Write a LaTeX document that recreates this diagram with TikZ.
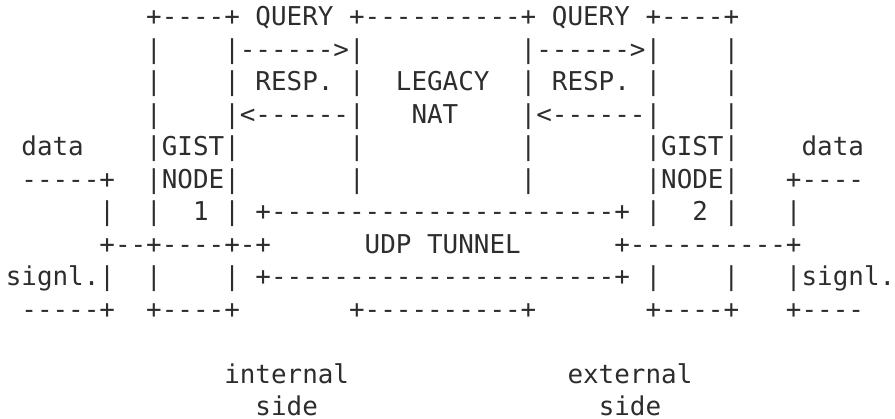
\documentclass[tikz,border=0pt]{standalone}
\usepackage{fontspec}
\setmonofont{DejaVu Sans Mono}

\definecolor{ink}{RGB}{45,45,45}
\tikzset{
  ascii/.style={font=\ttfamily\fontsize{25.93}{32.5}\selectfont, text=ink,
    inner sep=0pt, text depth=0pt, anchor=base west}
}

\begin{document}
\begin{tikzpicture}[x=15.61pt, y=-32.5pt]
\useasboundingbox (-0.36,0.2) rectangle (57.0,13.092);

% we draw the top edge with the two queries
\node (top) [ascii] at (9,1) {+----+ QUERY +----------+ QUERY +----+};

% query arrows
\node (lside2) [ascii] at (9,2) {|};
\node (qry1) [ascii] at (14,2) {|------>|};
\node (qry2) [ascii] at (33,2) {|------>|};
\node (rside2) [ascii] at (46,2) {|};

% responses and the nat in the middle
\node (lside3) [ascii] at (9,3) {|};
\node (resp1) [ascii] at (14,3) {| RESP. |};
\node (legacy) [ascii] at (25,3) {LEGACY};
\node (resp2) [ascii] at (33,3) {| RESP. |};
\node (rside3) [ascii] at (46,3) {|};

\node (lside4) [ascii] at (9,4) {|};
\node (back1) [ascii] at (14,4) {|<------|};
\node (nat) [ascii] at (26,4) {NAT};
\node (back2) [ascii] at (33,4) {|<------|};
\node (rside4) [ascii] at (46,4) {|};

% the gist nodes
\node (ldata) [ascii] at (1,5) {data};
\node (gist1) [ascii] at (9,5) {|GIST|};
\node (natl5) [ascii] at (22,5) {|};
\node (natr5) [ascii] at (33,5) {|};
\node (gist2) [ascii] at (41,5) {|GIST|};
\node (rdata) [ascii] at (51,5) {data};

\node (ldline) [ascii] at (1,6) {-----+};
\node (node1) [ascii] at (9,6) {|NODE|};
\node (natl6) [ascii] at (22,6) {|};
\node (natr6) [ascii] at (33,6) {|};
\node (node2) [ascii] at (41,6) {|NODE|};
\node (rdline) [ascii] at (50,6) {+----};

% udp tunnel
\node (lpipe7) [ascii] at (6,7) {|};
\node (lbox7) [ascii] at (9,7) {|};
\node (num1) [ascii] at (12,7) {1 | +----------------------+ |};
\node (num2) [ascii] at (44,7) {2 |};
\node (rpipe7) [ascii] at (50,7) {|};

\node (ljoin) [ascii] at (6,8) {+--+----+-+};
\node (udp) [ascii] at (23,8) {UDP TUNNEL};
\node (rjoin) [ascii] at (39,8) {+----------+};

\node (lsig) [ascii] at (0,9) {signl.|};
\node (lbox9) [ascii] at (9,9) {|};
\node (tunnel) [ascii] at (14,9) {| +----------------------+ |};
\node (rbox9) [ascii] at (46,9) {|};
\node (rsig) [ascii] at (50,9) {|signl.};

% bottom edges
\node (lsline) [ascii] at (1,10) {-----+};
\node (foot1) [ascii] at (9,10) {+----+};
\node (natfoot) [ascii] at (22,10) {+----------+};
\node (foot2) [ascii] at (41,10) {+----+};
\node (rsline) [ascii] at (50,10) {+----};

% we add the side labels
\node (internal) [ascii] at (14,12) {internal};
\node (external) [ascii] at (36,12) {external};
\node (iside) [ascii] at (16,13) {side};
\node (eside) [ascii] at (38,13) {side};

\end{tikzpicture}
\end{document}
